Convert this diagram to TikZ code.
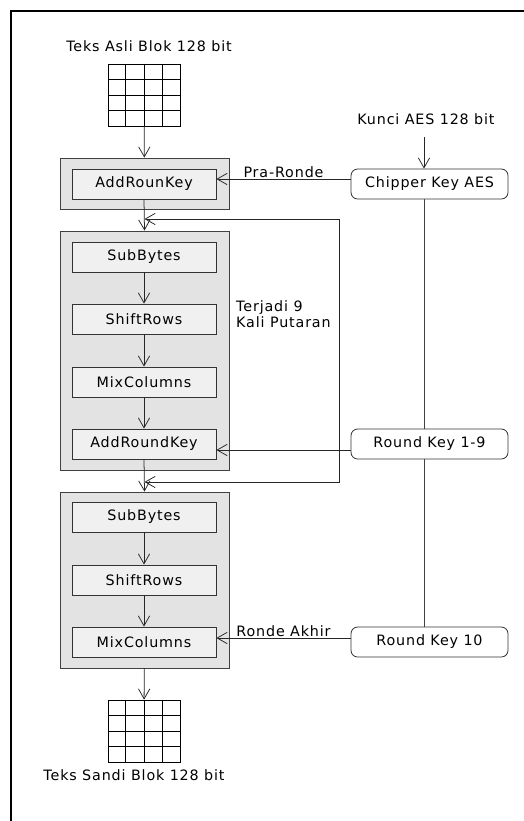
\documentclass[tikz,border=0pt]{standalone}
\usepackage{fontspec}
\setmainfont{DejaVu Sans}[LetterSpace=6]
\usetikzlibrary{arrows.meta,calc}

\tikzset{
  outerbox/.style={draw=black!75, fill=black!11, line width=0.7pt, inner sep=0pt},
  stepbox/.style={draw=black!80, fill=black!6, line width=0.7pt, inner sep=0pt,
    minimum width=43.2mm, minimum height=9mm},
  keybox/.style={draw=black!80, fill=white, line width=0.7pt, rounded corners=2mm,
    inner sep=0pt, minimum width=47.1mm, minimum height=9mm},
  blok/.style={draw=black, line width=0.6pt, minimum width=21.6mm, minimum height=18.6mm, inner sep=0pt},
  arr/.style={-{Straight Barb[length=3mm,width=3.4mm]}, draw=black!85, line width=0.65pt},
  lin/.style={draw=black!75, line width=0.65pt}
}

\begin{document}
\begin{tikzpicture}[x=0.3mm, y=-0.3mm, font=\fontsize{12.2}{14}\selectfont]
        \useasboundingbox (0,0) rectangle (524,821);
        \draw[line width=0.6mm] (11,821) -- (11,11) -- (524,11);

        % plaintext block
        \node (tin) at (149,46) {Teks Asli Blok 128 bit};
        \node[blok] (pt) at (144,95) {};
        \foreach \i in {1,2,3} {
            \draw[line width=0.6pt] ($(pt.north west)!\i/4!(pt.north east)$) -- ($(pt.south west)!\i/4!(pt.south east)$);
            \draw[line width=0.6pt] ($(pt.north west)!\i/4!(pt.south west)$) -- ($(pt.north east)!\i/4!(pt.south east)$);
        }

        % pre-round
        \node[outerbox, minimum width=50.7mm, minimum height=15.3mm] (r0) at (144.5,183.5) {};
        \node[stepbox] (ark0) at (144,184) {AddRounKey};

        % 9 rounds
        \node[outerbox, minimum width=50.7mm, minimum height=71.7mm] (r1) at (144.5,350.5) {};
        \node[stepbox] (sb1) at (144,257) {SubBytes};
        \node[stepbox] (sr1) at (144,319) {ShiftRows};
        \node[stepbox] (mc1) at (144,382) {MixColumns};
        \node[stepbox] (ark1) at (144,444) {AddRoundKey};
        \node[anchor=west, align=left, inner sep=0pt] (ulang) at (236,314) {Terjadi 9\\Kali Putaran};

        % final round
        \node[outerbox, minimum width=50.7mm, minimum height=52.8mm] (r2) at (144.5,580) {};
        \node[stepbox] (sb2) at (144,517) {SubBytes};
        \node[stepbox] (sr2) at (144,580) {ShiftRows};
        \node[stepbox] (mc2) at (144,642) {MixColumns};

        % ciphertext block
        \node[blok] (ct) at (144,731) {};
        \foreach \i in {1,2,3} {
            \draw[line width=0.6pt] ($(ct.north west)!\i/4!(ct.north east)$) -- ($(ct.south west)!\i/4!(ct.south east)$);
            \draw[line width=0.6pt] ($(ct.north west)!\i/4!(ct.south west)$) -- ($(ct.north east)!\i/4!(ct.south east)$);
        }
        \node (tout) at (134,775) {Teks Sandi Blok 128 bit};

        % keys
        \node (kin) at (426,119) {Kunci AES 128 bit};
        \coordinate (kx) at (424,137);
        \draw[lin] (kx |- 0,199) -- (kx |- 0,627);
        \node[keybox] (ck) at (429.5,184) {Chipper Key AES};
        \node[keybox] (rk19) at (429.5,444) {Round Key 1-9};
        \node[keybox] (rk10) at (429.5,642) {Round Key 10};
        \draw[arr] (kx) -- (kx |- ck.north);

        % main flow
        \draw[arr] (pt) -- (r0);
        \draw[arr] (ark0.south) -- (r1.north);
        \draw[arr] (sb1) -- (sr1);
        \draw[arr] (sr1) -- (mc1);
        \draw[arr] (mc1) -- (ark1);
        \draw[arr] (ark1.south) -- (r2.north);
        \draw[arr] (sb2) -- (sr2);
        \draw[arr] (sr2) -- (mc2);
        \draw[arr] (r2) -- (ct);

        % loop back
        \coordinate (lp1) at (339,219);
        \coordinate (lp2) at (339,482);
        \draw[arr] (lp1) -- (lp1 -| r0.south);
        \draw[arr] (lp1) -- (lp2) -- (lp2 -| r0.south);

        % round keys
        \draw[arr] ([yshift=1.5mm]ck.west) -- ([yshift=1.5mm]ark0.east) node[midway, above, inner sep=1pt] {Pra-Ronde};
        \draw[arr] ([yshift=-1.8mm]rk19.west) -- ([yshift=-1.8mm]ark1.east);
        \draw[arr] ([yshift=1.2mm]rk10.west) -- ([yshift=1.2mm]mc2.east) node[midway, above, inner sep=1pt] {Ronde Akhir};
    \end{tikzpicture}
\end{document}
